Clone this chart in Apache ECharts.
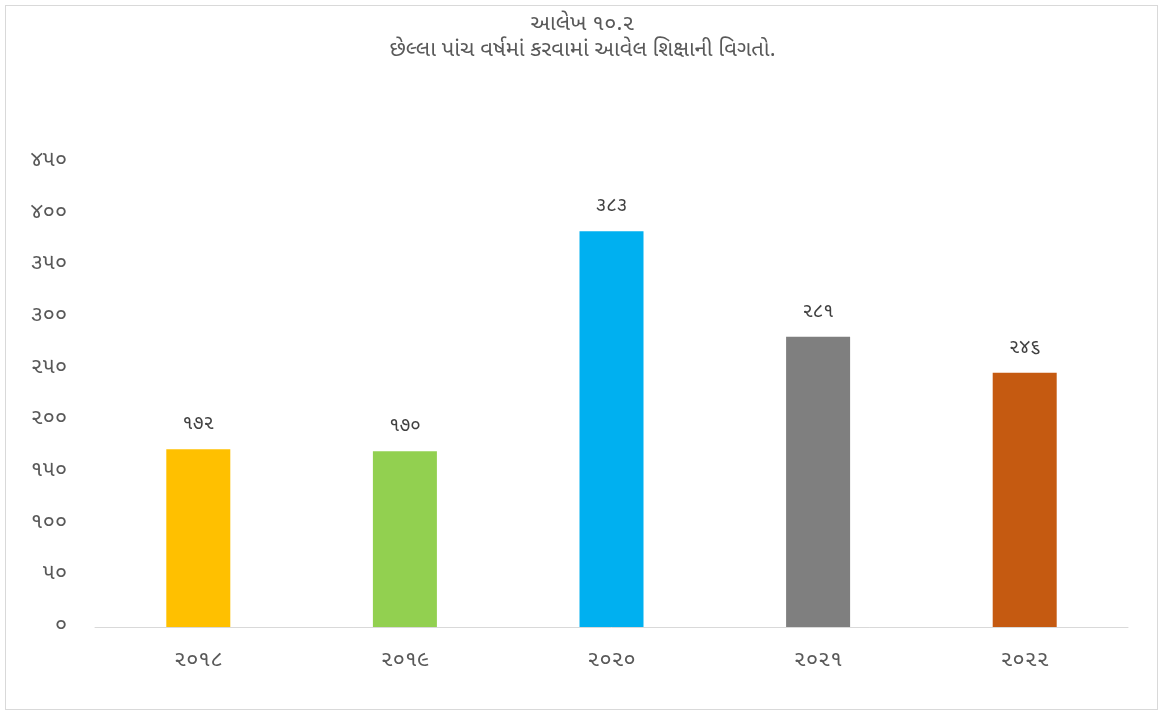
<!DOCTYPE html>
<html>
<head>
<meta charset="utf-8">
<script src="https://cdn.jsdelivr.net/npm/echarts@6/dist/echarts.min.js"></script>
<style>
  html, body { margin: 0; padding: 0; background: #fff; }
  #frame { position: absolute; left: 5px; top: 5px; width: 1153px; height: 705px; border: 1px solid #d9d9d9; box-sizing: border-box; }
  #chart { position: absolute; left: 0; top: 0; width: 1165px; height: 712px; }
</style>
</head>
<body>
<div id="frame"></div>
<div id="chart"></div>
<script>
// Years (categories) and count per year
const years = [2018, 2019, 2020, 2021, 2022];
const counts = [172, 170, 383, 281, 246];
const barColors = ['#FFC000', '#92D050', '#00B0F0', '#7F7F7F', '#C55A11'];
const titleLines = ['આલેખ ૧૦.૨', 'છેલ્લા પાંચ વર્ષમાં કરવામાં આવેલ શિક્ષાની વિગતો.'];

const guDigits = ['૦', '૧', '૨', '૩', '૪', '૫', '૬', '૭', '૮', '૯'];
function toGu(n) {
  return String(n).replace(/[0-9]/g, d => guDigits[+d]);
}

const fontFam = '"Noto Sans Gujarati", "Noto Sans", sans-serif';
const chart = echarts.init(document.getElementById('chart'), null, { renderer: 'canvas' });
chart.setOption({
  backgroundColor: 'transparent',
  animation: false,
  title: {
    text: titleLines.join('\n'),
    left: 'center',
    top: 8,
    textStyle: { color: '#595959', fontSize: 22, fontWeight: 'normal', fontFamily: fontFam, lineHeight: 26 }
  },
  grid: { left: 95, right: 37, top: 162, bottom: 85 },
  xAxis: {
    type: 'category',
    data: years,
    axisLine: { lineStyle: { color: '#d9d9d9', width: 1 } },
    axisTick: { show: false },
    axisLabel: {
      formatter: v => toGu(v),
      color: '#595959', fontSize: 22, fontFamily: fontFam, margin: 24
    }
  },
  yAxis: {
    type: 'value',
    min: 0, max: 450, interval: 50,
    axisLine: { show: false },
    axisTick: { show: false },
    splitLine: { show: false },
    axisLabel: {
      formatter: v => toGu(v),
      color: '#595959', fontSize: 22, fontFamily: fontFam, margin: 28
    }
  },
  series: [{
    type: 'bar',
    data: counts.map((v, i) => ({ value: v, itemStyle: { color: barColors[i] } })),
    barWidth: 64,
    label: {
      show: true,
      position: 'top',
      distance: 14,
      formatter: p => toGu(p.value),
      color: '#404040', fontSize: 19, fontFamily: fontFam
    }
  }]
});
</script>
</body>
</html>
